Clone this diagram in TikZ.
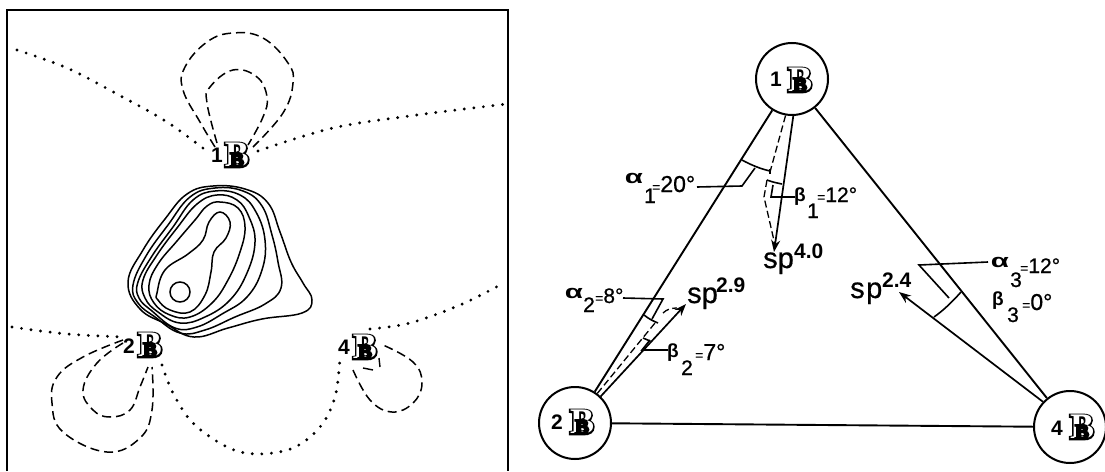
\documentclass[tikz,border=0pt]{standalone}
\usepackage{fontspec}
\usepackage{graphicx}
\usetikzlibrary{arrows.meta}
\setmainfont{Liberation Sans}
\newfontfamily\bbfat[FakeBold=9]{Liberation Serif Bold}
\newfontfamily\bbthin{Liberation Serif Bold}
\newfontfamily\lett[FakeBold=0.7]{Liberation Sans}
\newcommand\atomB{\makebox[0pt][c]{\bbfat\fontsize{36}{36}\selectfont B}\makebox[0pt][c]{\color{white}\bbthin\fontsize{36}{36}\selectfont B}\makebox[0pt][c]{\raisebox{0pt}{\bbfat\fontsize{21}{21}\selectfont B}}}
\newcommand\eqs{{\fontsize{14}{14}\selectfont=}}
\newcommand\wide[1]{\scalebox{1.55}[1]{#1}}
\tikzset{
  x=1pt,y=-1pt,
  frameline/.style={line width=1.7pt},
  dotline/.style={line width=3.2pt,line cap=round,dash pattern=on 0pt off 9.6pt},
  dashline/.style={line width=1.5pt,dash pattern=on 9pt off 5pt},
  contourline/.style={line width=1.5pt},
  atomcircle/.style={circle,draw,line width=2pt,minimum size=72pt,inner sep=0pt},
  bond/.style={line width=1.9pt},
  hyb/.style={line width=1.7pt,-{Stealth[length=12pt,width=9pt]}},
  hybdash/.style={line width=1.3pt,dash pattern=on 7pt off 3.5pt},
  leader/.style={line width=1.6pt},
  atomtxt/.style={inner sep=0pt,font=\bfseries\fontsize{21}{21}\selectfont},
  atomsym/.style={inner sep=0pt},
  big/.style={inner sep=0pt,anchor=base west,font=\lett\fontsize{29}{29}\selectfont},
  exps/.style={inner sep=0pt,anchor=base west,font=\bfseries\fontsize{21}{21}\selectfont},
  val/.style={inner sep=0pt,anchor=base west,font=\lett\fontsize{23}{23}\selectfont},
  sym/.style={inner sep=0pt,font=\bfseries\fontsize{19}{19}\selectfont},
  subs/.style={inner sep=0pt,anchor=base,font=\lett\fontsize{21}{21}\selectfont},
}
\begin{document}
\begin{tikzpicture}
\useasboundingbox (0,0) rectangle (1105,471);
% left panel
\draw[frameline] (7,471) -- (7,10) -- (508,10) -- (508,471);
% dotted nodal lines
\draw[dotline] plot[smooth,tension=.6] coordinates {(17,50) (67,68) (117,94) (167,122) (208,152)};
\draw[dotline] plot[smooth,tension=.6] coordinates {(258,151) (333,128) (417,115) (507,104)};
\draw[dotline] plot[smooth,tension=.6] coordinates {(12,327) (67,334) (124,337)};
\draw[dotline] plot[smooth,tension=.6] coordinates {(370,329) (410,323) (460,305) (500,285)};
\draw[dotline] plot[smooth,tension=.6] coordinates {(162,365) (173,393) (193,423) (227,447) (257,454) (293,448) (320,427) (335,397) (340,357)};
% dashed
\draw[dashline] plot[smooth,tension=.7] coordinates {(215,147) (200,122) (183,90) (185,67) (207,42) (233,33) (263,38) (288,63) (293,83) (283,113) (253,147)};
\draw[dashline] plot[smooth,tension=.7] coordinates {(217,143) (207,103) (210,87) (233,70) (257,77) (267,97) (263,117) (248,145)};
\draw[dashline] plot[smooth,tension=.7] coordinates {(123,340) (83,357) (57,377) (52,403) (63,432) (107,452) (140,438) (152,410) (152,367)};
\draw[dashline] plot[smooth,tension=.7] coordinates {(123,343) (97,363) (83,390) (93,410) (110,417) (130,410) (140,387) (148,367)};
\draw[dashline] plot[smooth,tension=.7] coordinates {(353,370) (370,400) (392,412) (413,403) (422,383) (413,362) (383,345)};
\draw[line width=1.4pt] (363,368) -- (373,370);
\draw[line width=1.4pt] (379,358) -- (380,367);
% contours
\draw[contourline] plot[smooth cycle,tension=.7] coordinates {(213,186) (245,189) (268,203) (280,232) (291,262) (303,283) (312,300) (302,313) (262,319) (228,328) (194,337) (166,324) (140,309) (128,282) (143,250) (165,219) (187,194)};
\draw[contourline] plot[smooth cycle,tension=.7] coordinates {(215,188) (243,191) (262,206) (272,235) (278,262) (281,288) (265,304) (235,317) (205,330) (180,333) (155,317) (138,303) (133,285) (146,256) (168,225) (190,197)};
\draw[contourline] plot[smooth cycle,tension=.7] coordinates {(215,191) (240,195) (256,212) (265,240) (262,270) (247,297) (222,314) (197,327) (175,328) (152,311) (139,298) (138,282) (152,256) (173,227) (193,200)};
\draw[contourline] plot[smooth cycle,tension=.7] coordinates {(217,195) (237,200) (249,217) (255,242) (247,273) (230,300) (205,317) (180,323) (158,312) (145,298) (143,280) (157,255) (177,228) (197,204)};
\draw[contourline] plot[smooth cycle,tension=.7] coordinates {(220,202) (238,208) (245,227) (240,252) (228,280) (212,303) (190,317) (170,315) (154,303) (149,285) (158,264) (177,241) (195,220) (207,206)};
\draw[contourline] plot[smooth cycle,tension=.7] coordinates {(157,293) (165,270) (188,254) (203,240) (209,222) (220,212) (230,222) (226,238) (214,252) (211,272) (205,295) (190,312) (170,310) (158,300)};
\draw[contourline] (180,292) ellipse (10 and 10);
% left atoms
\node[atomtxt] (la1) at (217,155) {1};
\node[atomsym] (lb1) at (237,155) {\atomB};
\node[atomtxt] (la2) at (129,346) {2};
\node[atomsym] (lb2) at (150,345) {\atomB};
\node[atomtxt] (la4) at (344,347) {4};
\node[atomsym] (lb4) at (365,347) {\atomB};
% right panel
\node[atomcircle] (n1) at (792,79) {};
\node[atomcircle] (n2) at (575,423) {};
\node[atomcircle] (n4) at (1070,427) {};
\node[atomtxt] (ra1) at (776,79) {1};
\node[atomsym] (rb1) at (800,80) {\atomB};
\node[atomtxt] (ra2) at (557,422) {2};
\node[atomsym] (rb2) at (582,422) {\atomB};
\node[atomtxt] (ra4) at (1057,428) {4};
\node[atomsym] (rb4) at (1082,427) {\atomB};
\draw[bond] (n1) -- (n2);
\draw[bond] (n1) -- (n4);
\draw[bond] (n2) -- (n4);
% named free ends
\coordinate (t1) at (774,252);
\coordinate (t2) at (686,304);
\coordinate (t4) at (899,292);
% hybrid arrows
\draw[hyb] (n1.-88) -- (t1);
\draw[hyb] (n2.46) -- (t2);
\draw[hyb] (n4.137) -- (t4);
\draw[hybdash] (n1.-100) -- (770,172);
\draw[hybdash] (767,180) -- (764,197) -- (775,245);
\draw[hybdash] (n2.53) -- (655,323);
\draw[hybdash] (663,313) .. controls (667,309) and (672,308) .. (677,308);
% alpha 1, beta 1
\draw[leader] (742,160) .. controls (751,165) and (761,169) .. (770,171);
\draw[leader] (770,169) -- (770,174);
\draw[leader] (755,168) -- (742,186) -- (697,187);
\draw[leader] (767,180) .. controls (772,182) and (777,183) .. (782,184);
\draw[leader] (773,185) -- (771,197) -- (795,197);
% alpha 2, beta 2
\draw[leader] (644,315) .. controls (649,319) and (653,321) .. (658,323);
\draw[leader] (623,298) -- (663,299) -- (652,319);
\draw[leader] (643,338) -- (650,341);
\draw[leader] (668,350) -- (642,350) -- (650,340);
% alpha 3
\draw[leader] (934,317) .. controls (944,310) and (953,301) .. (961,292);
\draw[leader] (988,262) -- (919,265) -- (949,298);
% labels
\node[sym] (al1) at (634,178) {\wide{α}};
\node[subs] (al1s) at (650,203) {1};
\node[val] (al1v) at (652,192) {\eqs 20°};
\node[sym] (be1) at (800,197) {β};
\node[subs] (be1s) at (813,218) {1};
\node[val,font=\lett\fontsize{21}{21}\selectfont] (be1v) at (817,202) {\eqs 12°};
\node[big] (sp1) at (763,268) {sp};
\node[exps] (sp1e) at (794,258) {4.0};
\node[sym] (al2) at (574,293) {\wide{α}};
\node[subs] (al2s) at (589,312) {2};
\node[val,font=\lett\fontsize{21}{21}\selectfont] (al2v) at (595,303) {\eqs 8°};
\node[big] (sp2) at (687,303) {sp};
\node[exps] (sp2e) at (716,292) {2.9};
\node[sym] (be2) at (673,353) {β};
\node[subs] (be2s) at (687,375) {2};
\node[val] (be2v) at (695,360) {\eqs 7°};
\node[big] (sp4) at (850,298) {s\kern1.5pt p};
\node[exps] (sp4e) at (882,287) {2.4};
\node[sym] (al3) at (1000,262) {\wide{α}};
\node[subs] (al3s) at (1016,287) {3};
\node[val,font=\lett\fontsize{21}{21}\selectfont] (al3v) at (1020,273) {\eqs 12°};
\node[sym] (be3) at (998,301) {β};
\node[subs] (be3s) at (1013,322) {3};
\node[val] (be3v) at (1022,310) {\eqs 0°};
\end{tikzpicture}
\end{document}
